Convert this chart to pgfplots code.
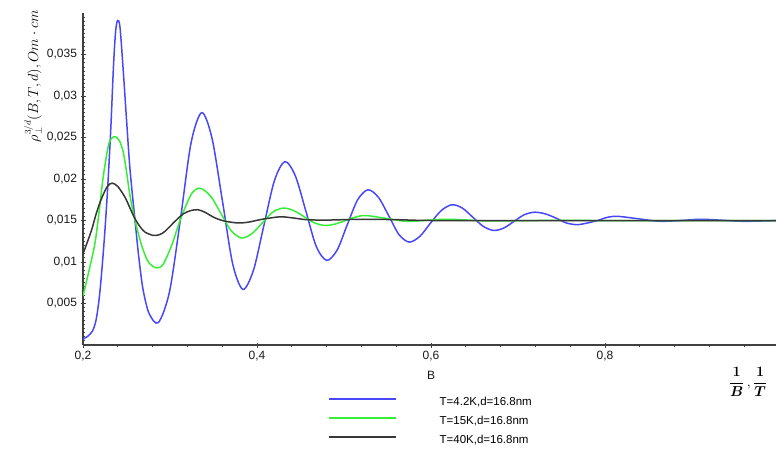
\documentclass[border=0pt]{standalone}
\usepackage[no-math]{fontspec}
\setmainfont{Liberation Sans}
\usepackage{amsmath}
\usepackage{pgfplots}
\pgfplotsset{compat=1.18}

\definecolor{cblue}{RGB}{72,72,250}
\definecolor{cgreen}{RGB}{55,238,55}
\definecolor{cblack}{RGB}{55,55,55}

\begin{document}
\begin{tikzpicture}
\useasboundingbox (0pt,0pt) rectangle (776pt,448pt);
\begin{axis}[
    at={(83pt,103pt)}, anchor=south west,
    width=696pt, height=332pt, scale only axis,
    xmin=0.2, xmax=1.0, ymin=0, ymax=0.04,
    axis x line*=bottom, axis y line*=left,
    axis line style={black!75, line width=1.2pt, -},
    xtick={0.2,0.4,0.6,0.8},
    minor xtick={0.24,0.28,0.32,0.36,0.44,0.48,0.52,0.56,0.64,0.68,0.72,0.76,0.84,0.88,0.92,0.96},
    ytick={0.005,0.01,0.015,0.02,0.025,0.03,0.035},
    minor ytick={0.0005,0.001,...,0.0395},
    tick align=center,
    major tick length=5pt, minor tick length=3pt,
    tick style={black!75, line width=0.9pt},
    scaled x ticks=false, scaled y ticks=false,
    /pgf/number format/assume math mode=true,
    xticklabel style={/pgf/number format/.cd, fixed, precision=1, use comma},
    yticklabel style={/pgf/number format/.cd, fixed, precision=3, use comma},
    ticklabel style={font=\fontsize{12}{14}\selectfont, text=black!90},
    xlabel={B},
    xlabel style={at={(axis description cs:0.5,0)}, anchor=center, yshift=-30pt,
        font=\fontsize{12}{14}\selectfont, text=black!90},
    ylabel={$\rho_{\perp}^{3/d}(B,T,d),Om\cdot cm$},
    ylabel style={at={(axis description cs:-0.072,0.81)}, anchor=center,
        font=\fontsize{13.5}{16}\selectfont},
    legend style={at={(axis description cs:0.352,-0.159)}, anchor=north west,
        draw=none, fill=none, inner sep=0pt, row sep=9pt, column sep=43pt,
        font=\fontsize{11.5}{12}\selectfont,
        nodes={inner sep=0pt, text height=8pt, text depth=2pt}},
    legend cell align=left,
    legend image code/.code={\draw[#1] (0pt,4pt) -- (67pt,4pt);},
]
% T = 4.2 K
\addplot[color=cblue, line width=1.5pt, smooth] coordinates {
(0.2000,0.0007) (0.2060,0.0011) (0.2110,0.0017) (0.2150,0.0030) (0.2185,0.0055)
(0.2215,0.0088) (0.2250,0.0135) (0.2285,0.0192) (0.2320,0.0262) (0.2350,0.0335)
(0.2375,0.0378) (0.2398,0.0391) (0.2425,0.0383) (0.2463,0.0330) (0.2500,0.0272)
(0.2540,0.0212) (0.2598,0.0150) (0.2640,0.0107) (0.2690,0.0067) (0.2760,0.0038)
(0.2866,0.0027) (0.2994,0.0064) (0.3118,0.0150) (0.3241,0.0243) (0.3365,0.0280)
(0.3483,0.0249) (0.3602,0.0174) (0.3720,0.0098) (0.3838,0.0067) (0.3959,0.0090)
(0.4079,0.0144) (0.4200,0.0198) (0.4320,0.0221) (0.4440,0.0204) (0.4560,0.0162)
(0.4680,0.0119) (0.4800,0.0102) (0.4919,0.0114) (0.5038,0.0145) (0.5157,0.0175)
(0.5276,0.0187) (0.5395,0.0178) (0.5513,0.0156) (0.5632,0.0133) (0.5750,0.0124)
(0.5873,0.0131) (0.5995,0.0147) (0.6118,0.0162) (0.6240,0.0169) (0.6360,0.0165)
(0.6480,0.0154) (0.6600,0.0143) (0.6720,0.0138) (0.6838,0.0141) (0.6955,0.0149)
(0.7073,0.0157) (0.7190,0.0160) (0.7313,0.0158) (0.7435,0.0153) (0.7558,0.0147)
(0.7680,0.0145) (0.7798,0.0147) (0.7915,0.0150) (0.8033,0.0154) (0.8150,0.0155)
(0.8390,0.0152) (0.8630,0.0149) (0.8865,0.0150) (0.9100,0.01515) (0.9350,0.01503)
(0.9600,0.0149) (1.0000,0.0150)
};
% T = 15 K
\addplot[color=cgreen, line width=1.5pt, smooth] coordinates {
(0.2000,0.0059) (0.2070,0.0090) (0.2138,0.0123) (0.2190,0.0165) (0.2233,0.0203)
(0.2291,0.0240) (0.2330,0.0249) (0.2368,0.0251) (0.2420,0.0246) (0.2463,0.0232)
(0.2500,0.0209) (0.2540,0.0180) (0.2598,0.0150) (0.2674,0.0120) (0.2740,0.0102)
(0.2800,0.0095) (0.2850,0.0093) (0.2920,0.0097) (0.3019,0.0120) (0.3115,0.0150)
(0.3200,0.0172) (0.3260,0.0184) (0.3330,0.0189) (0.3400,0.0186) (0.3483,0.0177)
(0.3583,0.0159) (0.3701,0.0138) (0.3820,0.0129) (0.3940,0.0134) (0.4060,0.0147)
(0.4180,0.0160) (0.4300,0.0165) (0.4421,0.0162) (0.4543,0.01545) (0.4664,0.0147)
(0.4785,0.0144) (0.4901,0.01458) (0.5018,0.0150) (0.5134,0.01542) (0.5250,0.0156)
(0.5485,0.01525) (0.5720,0.0149) (0.5960,0.01503) (0.6200,0.01515) (0.6670,0.01495)
(0.7200,0.0150) (0.8000,0.0150) (0.9000,0.0150) (1.0000,0.0150)
};
% T = 40 K
\addplot[color=cblack, line width=1.5pt, smooth] coordinates {
(0.2000,0.0110) (0.2050,0.0124) (0.2100,0.0139) (0.2157,0.0160) (0.2215,0.0177)
(0.2280,0.0191) (0.2335,0.0195) (0.2400,0.0191) (0.2483,0.0178) (0.2540,0.0165)
(0.2598,0.0152) (0.2660,0.0142) (0.2713,0.0136) (0.2808,0.0132) (0.2880,0.0133)
(0.2943,0.0137) (0.3057,0.0149) (0.3153,0.0158) (0.3240,0.0162) (0.3320,0.0163)
(0.3400,0.0160) (0.3500,0.0154) (0.3600,0.0150) (0.3700,0.0148) (0.3790,0.0147)
(0.3900,0.0148) (0.4035,0.0151) (0.4150,0.0153) (0.4280,0.01545) (0.4420,0.0153)
(0.4570,0.0151) (0.4800,0.01505) (0.5200,0.01515) (0.5600,0.0151) (0.6000,0.0150)
(0.7000,0.0150) (0.8000,0.0150) (0.9000,0.0150) (1.0000,0.0150)
};
\legend{{T=4.2K,d=16.8nm}, {T=15K,d=16.8nm}, {T=40K,d=16.8nm}}
\end{axis}
\node at (748pt,66pt) {\fontsize{14}{16}\selectfont$\displaystyle\frac{\mathbf{1}}{\boldsymbol{B}}\,,\frac{\mathbf{1}}{\boldsymbol{T}}$};
\end{tikzpicture}
\end{document}
